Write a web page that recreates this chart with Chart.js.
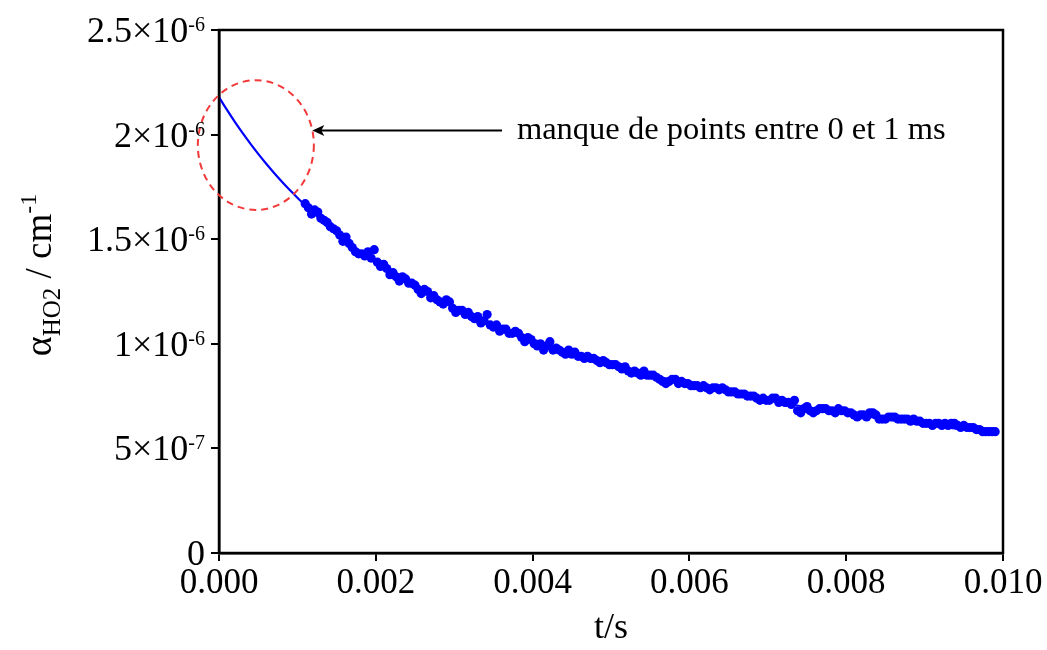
<!DOCTYPE html>
<html>
<head>
<meta charset="utf-8">
<script src="https://cdn.jsdelivr.net/npm/chart.js@4.4.1/dist/chart.umd.min.js"></script>
<style>
    html, body { margin: 0; padding: 0; background: #fff; }
    #wrap { width: 1047px; height: 650px; position: relative; }
</style>
</head>
<body>
<div id="wrap"><canvas id="chart"></canvas></div>
<script>
// --- DATA (alpha in units of 1e-6 cm-1, t in s) ---
const pointTimes = [
    0.00110, 0.00118, 0.00126, 0.00134, 0.00142, 0.00150, 0.00158, 0.00166, 0.00174, 0.00182,
    0.00190, 0.00198, 0.00206, 0.00214, 0.00222, 0.00230, 0.00238, 0.00246, 0.00254, 0.00262,
    0.00270, 0.00278, 0.00286, 0.00294, 0.00302, 0.00310, 0.00318, 0.00326, 0.00334, 0.00342,
    0.00350, 0.00358, 0.00366, 0.00374, 0.00382, 0.00390, 0.00398, 0.00406, 0.00414, 0.00422,
    0.00430, 0.00438, 0.00446, 0.00454, 0.00462, 0.00470, 0.00478, 0.00486, 0.00494, 0.00502,
    0.00510, 0.00518, 0.00526, 0.00534, 0.00542, 0.00550, 0.00558, 0.00566, 0.00574, 0.00582,
    0.00590, 0.00598, 0.00606, 0.00614, 0.00622, 0.00630, 0.00638, 0.00646, 0.00654, 0.00662,
    0.00670, 0.00678, 0.00686, 0.00694, 0.00702, 0.00710, 0.00718, 0.00726, 0.00734, 0.00742,
    0.00750, 0.00758, 0.00766, 0.00774, 0.00782, 0.00790, 0.00798, 0.00806, 0.00814, 0.00822,
    0.00830, 0.00838, 0.00846, 0.00854, 0.00862, 0.00870, 0.00878, 0.00886, 0.00894, 0.00902,
    0.00910, 0.00918, 0.00926, 0.00934, 0.00942, 0.00950, 0.00958, 0.00966, 0.00974, 0.00982,
    0.00990
];
const pointValues = [
    1.67, 1.62, 1.63, 1.59, 1.56, 1.54, 1.49, 1.48, 1.44, 1.43,
    1.44, 1.45, 1.37, 1.36, 1.34, 1.30, 1.31, 1.29, 1.26, 1.26,
    1.22, 1.21, 1.19, 1.20, 1.15, 1.16, 1.15, 1.12, 1.10, 1.14,
    1.08, 1.06, 1.07, 1.05, 1.05, 1.01, 1.02, 0.99, 0.97, 1.01,
    0.98, 0.96, 0.97, 0.96, 0.94, 0.94, 0.93, 0.91, 0.91, 0.90,
    0.89, 0.89, 0.86, 0.86, 0.87, 0.85, 0.84, 0.82, 0.82, 0.83,
    0.82, 0.81, 0.80, 0.79, 0.79, 0.79, 0.78, 0.78, 0.77, 0.76,
    0.76, 0.75, 0.74, 0.74, 0.73, 0.74, 0.73, 0.72, 0.73, 0.67,
    0.70, 0.67, 0.69, 0.69, 0.68, 0.69, 0.68, 0.67, 0.65, 0.66,
    0.67, 0.66, 0.64, 0.65, 0.65, 0.64, 0.64, 0.64, 0.63, 0.62,
    0.61, 0.62, 0.62, 0.62, 0.61, 0.61, 0.60, 0.59, 0.58, 0.58,
    0.58
];
const pointTimes2 = [
    0.00114, 0.00122, 0.00130, 0.00138, 0.00146, 0.00154, 0.00162, 0.00170, 0.00178, 0.00186,
    0.00194, 0.00202, 0.00210, 0.00218, 0.00226, 0.00234, 0.00242, 0.00250, 0.00258, 0.00266,
    0.00274, 0.00282, 0.00290, 0.00298, 0.00306, 0.00314, 0.00322, 0.00330, 0.00338, 0.00346,
    0.00354, 0.00362, 0.00370, 0.00378, 0.00386, 0.00394, 0.00402, 0.00410, 0.00418, 0.00426,
    0.00434, 0.00442, 0.00450, 0.00458, 0.00466, 0.00474, 0.00482, 0.00490, 0.00498, 0.00506,
    0.00514, 0.00522, 0.00530, 0.00538, 0.00546, 0.00554, 0.00562, 0.00570, 0.00578, 0.00586,
    0.00594, 0.00602, 0.00610, 0.00618, 0.00626, 0.00634, 0.00642, 0.00650, 0.00658, 0.00666,
    0.00674, 0.00682, 0.00690, 0.00698, 0.00706, 0.00714, 0.00722, 0.00730, 0.00738, 0.00746,
    0.00754, 0.00762, 0.00770, 0.00778, 0.00786, 0.00794, 0.00802, 0.00810, 0.00818, 0.00826,
    0.00834, 0.00842, 0.00850, 0.00858, 0.00866, 0.00874, 0.00882, 0.00890, 0.00898, 0.00906,
    0.00914, 0.00922, 0.00930, 0.00938, 0.00946, 0.00954, 0.00962, 0.00970, 0.00978, 0.00986
];
const pointValues2 = [
    1.65, 1.64, 1.60, 1.58, 1.55, 1.52, 1.51, 1.46, 1.43, 1.42,
    1.41, 1.39, 1.38, 1.33, 1.32, 1.32, 1.29, 1.28, 1.24, 1.25,
    1.23, 1.20, 1.21, 1.17, 1.16, 1.14, 1.13, 1.13, 1.11, 1.09,
    1.09, 1.07, 1.05, 1.06, 1.03, 1.03, 1.00, 1.00, 0.99, 0.97,
    0.97, 0.95, 0.95, 0.94, 0.93, 0.93, 0.92, 0.92, 0.90, 0.90,
    0.88, 0.87, 0.87, 0.85, 0.85, 0.85, 0.83, 0.81, 0.83, 0.81,
    0.81, 0.80, 0.80, 0.80, 0.78, 0.79, 0.79, 0.77, 0.77, 0.76,
    0.75, 0.75, 0.73, 0.73, 0.74, 0.72, 0.72, 0.71, 0.68, 0.69,
    0.68, 0.68, 0.69, 0.68, 0.67, 0.68, 0.67, 0.66, 0.66, 0.65,
    0.67, 0.64, 0.64, 0.65, 0.64, 0.64, 0.63, 0.63, 0.62, 0.62,
    0.62, 0.61, 0.61, 0.62, 0.60, 0.60, 0.60, 0.59, 0.58, 0.58
];
const fitTimes = [0, 0.0001, 0.0002, 0.0003, 0.0004, 0.0005, 0.0006, 0.0007, 0.0008, 0.0009,
                  0.0010, 0.0011, 0.0012, 0.0014, 0.0016, 0.0018, 0.0020, 0.0025, 0.0030, 0.0035,
                  0.0040, 0.0045, 0.0050, 0.0060, 0.0070, 0.0080, 0.0090, 0.0099];
const fitValues = [2.179, 2.119, 2.062, 2.008, 1.957, 1.908, 1.862, 1.818, 1.776, 1.736,
                   1.698, 1.661, 1.626, 1.561, 1.501, 1.443, 1.391, 1.276, 1.178, 1.094,
                   1.021, 0.958, 0.902, 0.807, 0.730, 0.667, 0.614, 0.573];

const xTickValues = [0, 0.002, 0.004, 0.006, 0.008, 0.010];
const yTickValues = [0, 0.5, 1.0, 1.5, 2.0, 2.5];
const yTickMain = ['0', '5\u00d710', '1\u00d710', '1.5\u00d710', '2\u00d710', '2.5\u00d710'];
const yTickExp = ['', '-7', '-6', '-6', '-6', '-6'];

const noteText = 'manque de points entre 0 et 1 ms';
const SERIF = '"Liberation Serif", "Times New Roman", serif';

// --- ANNOTATIONS (ellipse, arrow, text, frame, y labels) ---
const decorPlugin = {
    id: 'decor',
    afterDatasetsDraw(chart) {
        const { ctx, chartArea: a, scales: { x, y } } = chart;
        ctx.save();

        // frame round the plot
        ctx.strokeStyle = '#000';
        ctx.lineWidth = 2.5;
        ctx.strokeRect(a.left, a.top, a.right - a.left, a.bottom - a.top);

        // red dashed ellipse
        const cx = x.getPixelForValue(0.00047);
        const cy = y.getPixelForValue(1.95);
        const rx = x.getPixelForValue(0.00047 + 0.00074) - cx;
        const ry = cy - y.getPixelForValue(1.95 + 0.31);
        ctx.beginPath();
        ctx.setLineDash([7, 5]);
        ctx.strokeStyle = '#f23a3a';
        ctx.lineWidth = 2;
        ctx.ellipse(cx, cy, rx, ry, 0, 0, Math.PI * 2);
        ctx.stroke();
        ctx.setLineDash([]);

        // arrow
        const ay = y.getPixelForValue(2.02);
        const tip = x.getPixelForValue(0.00119);
        const tail = x.getPixelForValue(0.00361);
        ctx.strokeStyle = '#000';
        ctx.fillStyle = '#000';
        ctx.lineWidth = 2;
        ctx.beginPath();
        ctx.moveTo(tail, ay);
        ctx.lineTo(tip + 8, ay);
        ctx.stroke();
        ctx.beginPath();
        ctx.moveTo(tip, ay);
        ctx.lineTo(tip + 12, ay - 5.5);
        ctx.lineTo(tip + 9, ay);
        ctx.lineTo(tip + 12, ay + 5.5);
        ctx.closePath();
        ctx.fill();

        // note text
        ctx.font = '32.5px ' + SERIF;
        ctx.textAlign = 'left';
        ctx.textBaseline = 'alphabetic';
        ctx.fillText(noteText, x.getPixelForValue(0.0038), y.getPixelForValue(1.979));
        ctx.restore();
    },
    afterDraw(chart) {
        const { ctx, scales: { y } } = chart;
        ctx.save();
        ctx.fillStyle = '#000';
        ctx.textBaseline = 'alphabetic';
        ctx.textAlign = 'left';

        // y tick labels with superscript exponents
        const right = 205;
        yTickValues.forEach((v, i) => {
            const py = y.getPixelForValue(v);
            ctx.font = '36px ' + SERIF;
            const wMain = ctx.measureText(yTickMain[i]).width;
            ctx.font = '20px ' + SERIF;
            const wExp = yTickExp[i] ? ctx.measureText(yTickExp[i]).width : 0;
            const start = right - wMain - wExp;
            ctx.font = '36px ' + SERIF;
            ctx.fillText(yTickMain[i], start, py + 12);
            if (wExp) {
                ctx.font = '20px ' + SERIF;
                ctx.fillText(yTickExp[i], start + wMain, py + 1);
            }
        });

        // y axis title: alpha_HO2 / cm^-1, rotated
        const parts = [
            { t: '\u03b1', size: 38, dy: 0 },
            { t: 'HO2', size: 25, dy: 9 },
            { t: ' / cm', size: 37, dy: 0 },
            { t: '-1', size: 24, dy: -15 }
        ];
        let total = 0;
        parts.forEach(p => {
            ctx.font = p.size + 'px ' + SERIF;
            p.w = ctx.measureText(p.t).width;
            total += p.w;
        });
        ctx.translate(51, 275);
        ctx.rotate(-Math.PI / 2);
        let cursor = -total / 2;
        parts.forEach(p => {
            ctx.font = p.size + 'px ' + SERIF;
            ctx.fillText(p.t, cursor, p.dy);
            cursor += p.w;
        });
        ctx.restore();
    }
};

const pointStyle = {
    backgroundColor: '#0000ff',
    borderColor: '#0000ff',
    borderWidth: 0,
    pointRadius: 4.6,
    showLine: false,
    order: 1
};

// --- CHART ---
const ctx = document.getElementById('chart').getContext('2d');
new Chart(ctx, {
    type: 'scatter',
    data: {
        datasets: [
            Object.assign({ label: 'mesure', data: pointTimes.map((t, i) => ({ x: t, y: pointValues[i] })) }, pointStyle),
            Object.assign({ label: 'mesure 2', data: pointTimes2.map((t, i) => ({ x: t, y: pointValues2[i] })) }, pointStyle),
            {
                label: 'ajustement',
                data: fitTimes.map((t, i) => ({ x: t, y: fitValues[i] })),
                borderColor: '#0000ff',
                borderWidth: 2.2,
                pointRadius: 0,
                showLine: true,
                cubicInterpolationMode: 'monotone',
                order: 2
            }
        ]
    },
    options: {
        responsive: true,
        maintainAspectRatio: false,
        animation: false,
        layout: { padding: { top: 30, right: 44, left: 0, bottom: 0 } },
        plugins: {
            legend: { display: false },
            tooltip: { enabled: false }
        },
        scales: {
            x: {
                type: 'linear',
                min: 0,
                max: 0.010,
                afterBuildTicks: (s) => { s.ticks = xTickValues.map(v => ({ value: v })); },
                afterFit: (s) => { s.height = 97; },
                ticks: {
                    color: '#000',
                    font: { family: SERIF, size: 35 },
                    padding: 2,
                    maxRotation: 0,
                    callback: (v) => Number(v).toFixed(3)
                },
                grid: { drawOnChartArea: false, drawTicks: true, tickLength: 8, color: '#000', lineWidth: 2 },
                border: { display: true, color: '#000', width: 2.5 },
                title: {
                    display: true,
                    text: 't/s',
                    color: '#000',
                    font: { family: SERIF, size: 36 },
                    padding: { top: 0, bottom: 0 }
                }
            },
            y: {
                type: 'linear',
                min: 0,
                max: 2.5,
                afterBuildTicks: (s) => { s.ticks = yTickValues.map(v => ({ value: v })); },
                afterFit: (s) => { s.width = 219; },
                ticks: { display: false },
                grid: { drawOnChartArea: false, drawTicks: true, tickLength: 8, color: '#000', lineWidth: 2 },
                border: { display: true, color: '#000', width: 2.5 }
            }
        }
    },
    plugins: [decorPlugin]
});
</script>
</body>
</html>
